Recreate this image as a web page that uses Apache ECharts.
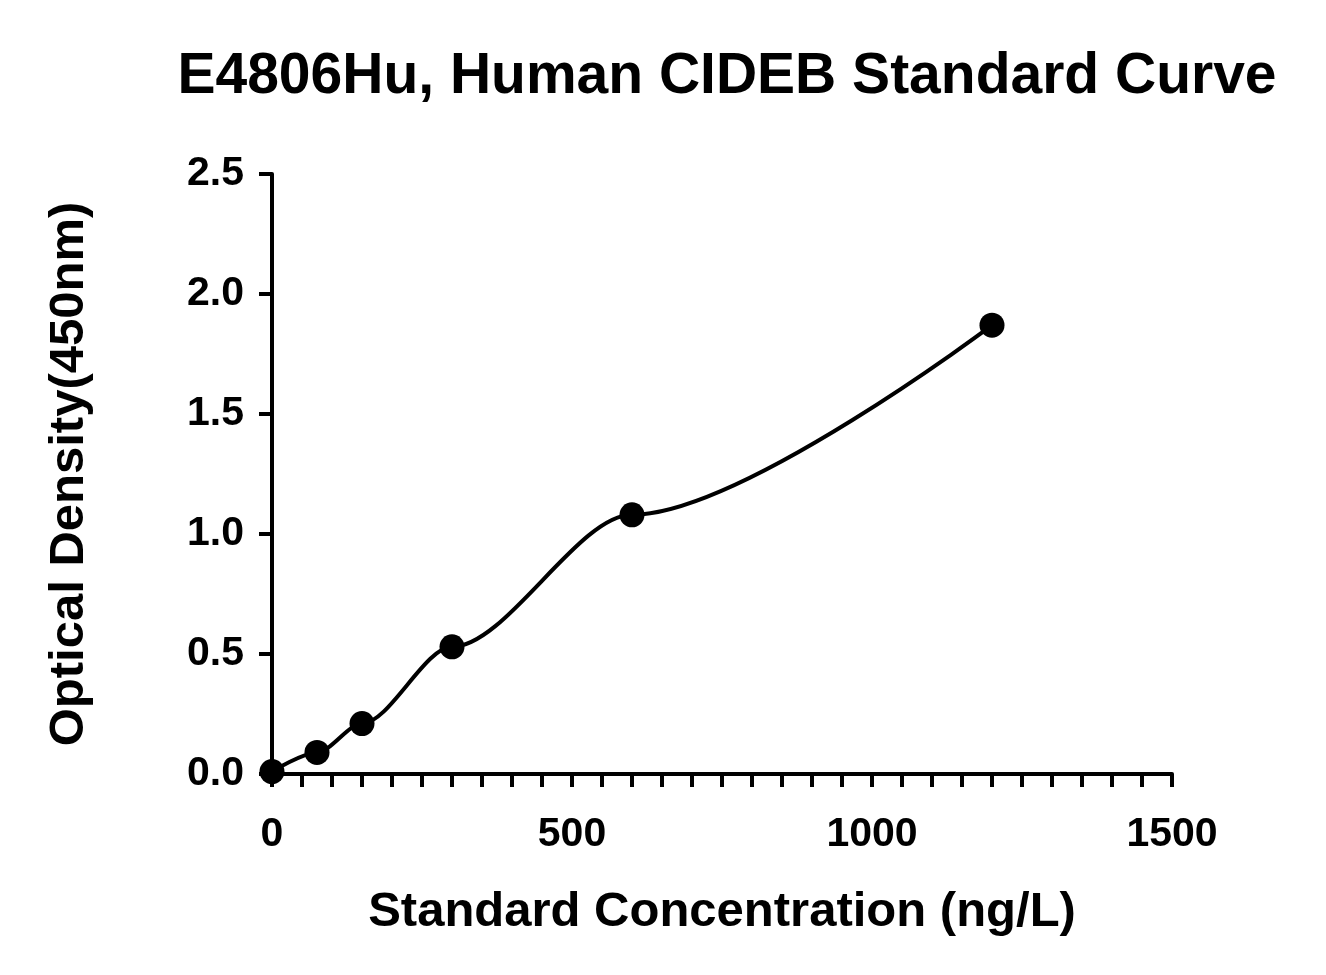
<!DOCTYPE html>
<html><head><meta charset="utf-8">
<script src="https://cdn.jsdelivr.net/npm/echarts@6/dist/echarts.min.js"></script>
<style>html,body{margin:0;padding:0;background:#fff}#c{width:1326px;height:975px}</style>
</head><body><div id="c"></div>
<script>
const concentrations = [0, 75, 150, 300, 600, 1200];
const densities = [0.01, 0.09, 0.21, 0.53, 1.08, 1.87];
const F = 'Liberation Sans, Arial, sans-serif';
const chart = echarts.init(document.getElementById('c'));
chart.setOption({
  animation:false,
  title:{text:'E4806Hu, Human CIDEB Standard Curve',left:722,top:44,textAlign:'center',
    textStyle:{fontFamily:F,fontWeight:'bold',fontSize:57,color:'#000'}},
  grid:{left:272,right:154,top:174,bottom:201},
  xAxis:{type:'value',min:0,max:1500,interval:500,
    name:'Standard Concentration (ng/L)',nameLocation:'middle',nameGap:114,
    nameTextStyle:{fontFamily:F,fontWeight:'bold',fontSize:49,color:'#000'},
    axisLine:{lineStyle:{color:'#000',width:4}},
    axisTick:{length:13,lineStyle:{width:4,color:'#000'}},
    minorTick:{show:true,splitNumber:10,length:13,lineStyle:{width:4,color:'#000'}},
    splitLine:{show:false},
    axisLabel:{fontFamily:F,fontWeight:'bold',fontSize:41,color:'#000',margin:40,
      formatter:v=>String(v)}},
  yAxis:{type:'value',min:0,max:2.5,interval:0.5,
    name:'Optical Density(450nm)',nameLocation:'middle',nameGap:178,
    nameTextStyle:{fontFamily:F,fontWeight:'bold',fontSize:49,color:'#000'},
    axisLine:{show:true,lineStyle:{color:'#000',width:4}},
    axisTick:{show:true,length:13,lineStyle:{width:4,color:'#000'}},
    splitLine:{show:false},
    axisLabel:{fontFamily:F,fontWeight:'bold',fontSize:41,color:'#000',margin:28,
      formatter:v=>v.toFixed(1)}},
  series:[{type:'line',data:concentrations.map((c,i)=>[c,densities[i]]),smooth:0.3,
    smoothMonotone:'x',
    symbol:'circle',symbolSize:25,itemStyle:{color:'#000'},
    lineStyle:{color:'#000',width:4}}]
});
</script></body></html>
